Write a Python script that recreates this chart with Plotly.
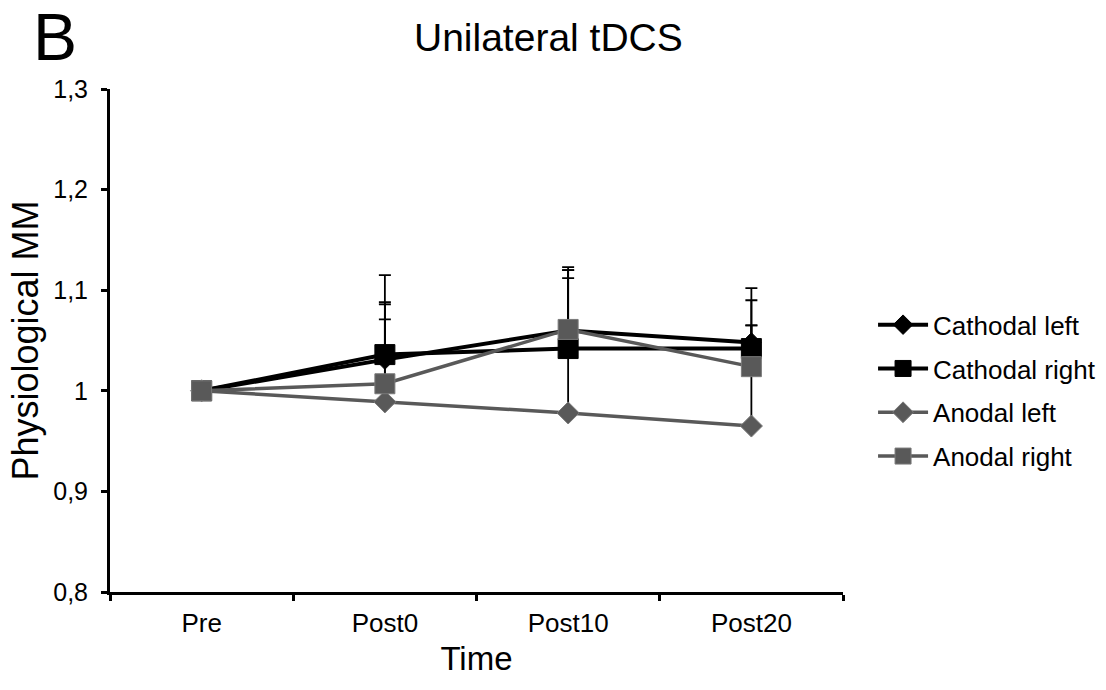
import plotly.graph_objects as go

categories = ["Pre", "Post0", "Post10", "Post20"]
series_names = ["Cathodal left", "Cathodal right", "Anodal left", "Anodal right"]
cathodal_left = [1.000, 1.031, 1.060, 1.048]
cathodal_right = [1.000, 1.036, 1.042, 1.042]
anodal_left = [1.000, 0.989, 0.978, 0.965]
anodal_right = [1.000, 1.007, 1.061, 1.024]
err_cathodal_left = [0.0, 0.040, 0.060, 0.054]
err_cathodal_right = [0.0, 0.052, 0.078, 0.048]
err_anodal_left = [0.0, 0.097, 0.134, 0.100]
err_anodal_right = [0.0, 0.108, 0.062, 0.041]
y_tickvals = [0.8, 0.9, 1.0, 1.1, 1.2, 1.3]
y_ticktext = ["0,8", "0,9", "1", "1,1", "1,2", "1,3"]

FONT = "Liberation Sans, Arial, sans-serif"
BLACK = "#000000"
GRAY = "#595959"

styles = [
    dict(color=BLACK, symbol="diamond", size=15, lw=4, mline=BLACK),
    dict(color=BLACK, symbol="square", size=20, lw=4, mline=BLACK),
    dict(color=GRAY, symbol="diamond", size=17, lw=3.5, mline="#7a7a7a"),
    dict(color=GRAY, symbol="square", size=20, lw=3.5, mline="#7a7a7a"),
]
values = [cathodal_left, cathodal_right, anodal_left, anodal_right]
errors = [err_cathodal_left, err_cathodal_right, err_anodal_left, err_anodal_right]

fig = go.Figure()
for name, vals, errs, st in zip(series_names, values, errors, styles):
    fig.add_trace(go.Scatter(
        x=categories, y=vals, name=name, mode="lines+markers",
        legendgroup=name,
        line=dict(color=st["color"], width=st["lw"]),
        marker=dict(symbol=st["symbol"], size=st["size"], color=st["color"],
                    line=dict(color=st["mline"], width=1)),
        error_y=dict(type="data", array=errs, arrayminus=[0] * len(errs),
                     symmetric=False, color=BLACK, thickness=1.8, width=6),
    ))

fig.update_layout(
    width=1106, height=690,
    paper_bgcolor="white", plot_bgcolor="white",
    margin=dict(l=110, r=263, t=89, b=98, autoexpand=False),
    font=dict(family=FONT, color="black"),
    showlegend=True,
    legend=dict(x=1.041, xanchor="left", y=0.578, yanchor="top",
                font=dict(size=26, family=FONT), traceorder="grouped",
                tracegroupgap=7, itemwidth=50, bgcolor="rgba(0,0,0,0)"),
    xaxis=dict(type="category", categoryorder="array", categoryarray=categories,
               range=[-0.5, 3.5], showline=True, linecolor="black", linewidth=3,
               ticks="outside", tickson="boundaries", ticklen=6, tickwidth=3,
               tickcolor="black", tickfont=dict(size=26, family=FONT),
               showgrid=False, zeroline=False, ticklabelstandoff=6,
               title=dict(text="Time", font=dict(size=33, family=FONT), standoff=10)),
    yaxis=dict(range=[0.8, 1.3], tickvals=y_tickvals, ticktext=y_ticktext,
               showline=True, linecolor="black", linewidth=3,
               ticks="outside", ticklen=6, tickwidth=3, tickcolor="black",
               tickfont=dict(size=25, family=FONT), showgrid=False, zeroline=False,
               ticklabelstandoff=8,
               title=dict(text="Physiological MM", font=dict(size=36, family=FONT), standoff=4)),
    annotations=[
        dict(text="Unilateral tDCS", xref="paper", yref="paper", x=0.598, y=1.0,
             yshift=52, xanchor="center", yanchor="middle", showarrow=False,
             font=dict(size=39, family=FONT)),
        dict(text="B", xref="paper", yref="paper", x=-0.075, y=1.0,
             yshift=52, xanchor="center", yanchor="middle", showarrow=False,
             font=dict(size=66, family=FONT)),
    ],
)

fig.write_html("out.html")
